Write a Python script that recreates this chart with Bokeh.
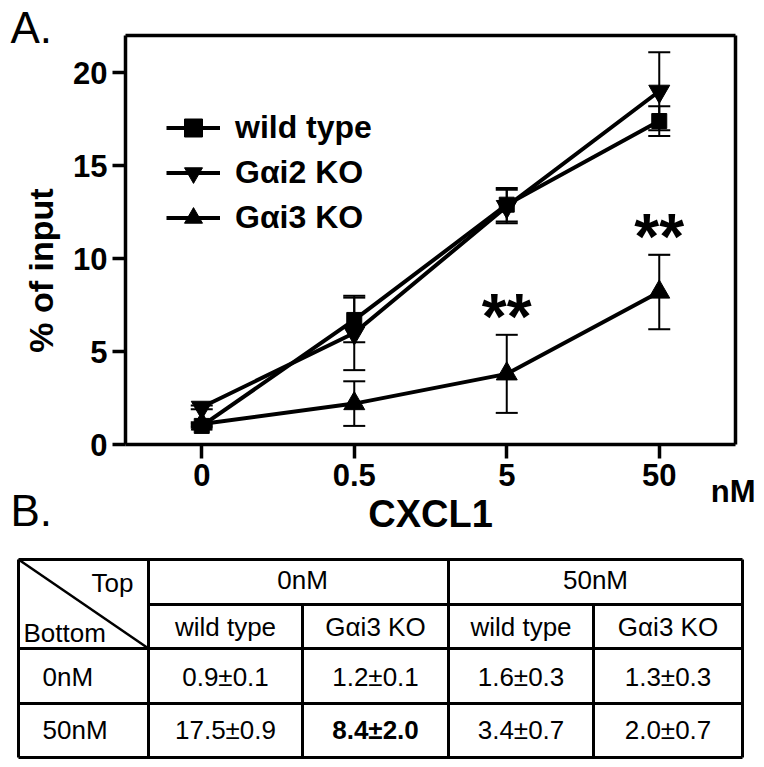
import math
from bokeh.plotting import figure
from bokeh.models import (ColumnDataSource, Range1d, Whisker, TeeHead, Legend, LegendItem,
                          LinearAxis, FixedTicker)
from bokeh.core.properties import value
from bokeh.embed import file_html
from bokeh.resources import INLINE

# ---------------- data ----------------
doses = ["0", "0.5", "5", "50"]
wt_mean = [1.0, 6.7, 12.9, 17.4]
wt_sem = [0.1, 1.2, 0.9, 0.8]
gai2_mean = [2.0, 6.0, 12.8, 19.0]
gai2_sem = [0.1, 2.0, 0.9, 2.1]
gai3_mean = [1.1, 2.2, 3.8, 8.2]
gai3_sem = [0.1, 1.2, 2.1, 2.0]
series_names = ["wild type", "G\u03b1i2 KO", "G\u03b1i3 KO"]
signif_doses = ["5", "50"]
signif_marks = ["**", "**"]
y_ticks = [0, 5, 10, 15, 20]
y_max = 22

table_top = ["0nM", "50nM"]
table_geno = ["wild type", "G\u03b1i3 KO"]
table_bottom = ["0nM", "50nM"]
tbl_mean = [[0.9, 1.2, 1.6, 1.3], [17.5, 8.4, 3.4, 2.0]]
tbl_sem = [[0.1, 0.1, 0.3, 0.3], [0.9, 2.0, 0.7, 0.7]]
tbl_bold = [[False, False, False, False], [False, True, False, False]]

# ---------------- layout (page pixels) ----------------
FONT = "Liberation Sans"
W, H = 760, 762
CH_L, CH_R, CH_T, CH_B = 125, 735, 35, 444     # chart box on the page
xpos = list(range(len(doses)))
x_lo, x_hi = -0.5, len(doses) - 0.5
xs = (CH_R - CH_L) / (x_hi - x_lo)
ys = (CH_B - CH_T) / y_max
x_start = x_lo - CH_L / xs
x_end = x_hi + (W - CH_R) / xs
y_start = -(H - CH_B) / ys
y_end = y_max + CH_T / ys

p = figure(width=W, height=H, x_range=Range1d(x_start, x_end), y_range=Range1d(y_start, y_end),
           output_backend="svg", toolbar_location=None, min_border=0,
           x_axis_location=None, y_axis_location=None)
p.extra_x_ranges = {"page": Range1d(0, W)}
p.extra_y_ranges = {"page": Range1d(H, 0)}
p.grid.visible = False
p.outline_line_color = None
p.background_fill_color = "white"
p.border_fill_color = "white"

# ---------------- axes (fixed inside the canvas) ----------------
def style_axis(ax):
    ax.axis_line_width = 3.5
    ax.axis_line_color = "black"
    ax.major_tick_line_width = 3.5
    ax.major_tick_line_color = "black"
    ax.major_tick_in = 0
    ax.minor_tick_line_color = None
    ax.major_label_text_font = FONT
    ax.major_label_text_font_style = "bold"
    ax.major_label_text_font_size = "31px"
    ax.major_label_text_color = "black"
    ax.major_label_standoff = 5

yax = LinearAxis(fixed_location=x_lo, bounds=(0, y_max), ticker=FixedTicker(ticks=y_ticks))
style_axis(yax)
yax.major_tick_out = 13
p.add_layout(yax, "left")

xax = LinearAxis(fixed_location=0, bounds=(x_lo, x_hi), ticker=FixedTicker(ticks=xpos),
                 major_label_overrides={i: d for i, d in zip(xpos, doses)})
style_axis(xax)
xax.major_tick_out = 14
p.add_layout(xax, "below")

tax = LinearAxis(fixed_location=y_max, bounds=(x_lo, x_hi), ticker=FixedTicker(ticks=[]))
style_axis(tax)
p.add_layout(tax, "above")
rax = LinearAxis(fixed_location=x_hi, bounds=(0, y_max), ticker=FixedTicker(ticks=[]))
style_axis(rax)
p.add_layout(rax, "right")

# ---------------- series ----------------
markers = ["square", "inverted_triangle", "triangle"]
msizes = [15, 21, 21]
means = [wt_mean, gai2_mean, gai3_mean]
sems = [wt_sem, gai2_sem, gai3_sem]
items = []
for name, mean, sem, mk, sz in zip(series_names, means, sems, markers, msizes):
    src = ColumnDataSource(dict(x=xpos, y=mean,
                                lo=[m - s for m, s in zip(mean, sem)],
                                hi=[m + s for m, s in zip(mean, sem)]))
    ln = p.line("x", "y", source=src, line_width=4, line_color="black")
    wh = Whisker(base="x", lower="lo", upper="hi", source=src, dimension="height",
                 line_width=2, line_color="black",
                 upper_head=TeeHead(size=22, line_width=2, line_color="black"),
                 lower_head=TeeHead(size=22, line_width=2, line_color="black"))
    p.add_layout(wh)
    sc = p.scatter("x", "y", source=src, marker=mk, size=sz,
                   fill_color="black", line_color="black")
    items.append(LegendItem(label=name, renderers=[ln, sc]))

leg = Legend(items=items, location=(166, H - 240), glyph_width=54, glyph_height=45,
             label_height=45, spacing=0, padding=0, margin=0, label_standoff=15,
             border_line_alpha=0, background_fill_alpha=0,
             label_text_font=FONT, label_text_font_style="bold",
             label_text_font_size="32px", label_text_color="black")
p.add_layout(leg)

star_x = [xpos[doses.index(d)] for d in signif_doses]
star_y = [gai3_mean[doses.index(d)] + gai3_sem[doses.index(d)] for d in signif_doses]
p.text(x=star_x, y=star_y, text=signif_marks, text_align="center",
       text_baseline="alphabetic", y_offset=-18, text_font=value(FONT),
       text_font_style="bold", text_font_size="64px", text_color="black")

# ---------------- free texts (page coordinates) ----------------
pg = dict(x_range_name="page", y_range_name="page", text_color="black",
          text_font=value(FONT), text_baseline="alphabetic")
p.text(x=[10], y=[43], text=["A."], text_font_size="44px", y_offset=-16, **pg)
p.text(x=[10], y=[525], text=["B."], text_font_size="44px", y_offset=-15, **pg)
p.text(x=[755], y=[503], text=["nM"], text_align="right", text_font_style="bold",
       text_font_size="31px", y_offset=-12, **pg)
p.text(x=[(CH_L + CH_R) / 2], y=[527], text=["CXCL1"], text_align="center",
       text_font_style="bold", text_font_size="38px", y_offset=-14, **pg)
p.text(x=[40], y=[270], text=["% of input"], angle=math.pi / 2, text_align="center",
       text_font_style="bold", text_font_size="34px", x_range_name="page",
       y_range_name="page", text_color="black", text_font=value(FONT),
       text_baseline="middle")

# ---------------- table (page coordinates) ----------------
cx = [18, 148, 302, 448, 593, 742]   # column edges
ry = [559, 604, 648, 703, 757]       # row edges
LW = 3
lk = dict(x_range_name="page", y_range_name="page", line_color="black")
hx0 = [cx[0], cx[1], cx[0], cx[0], cx[0]]
p.segment(x0=hx0, y0=ry, x1=[cx[-1]] * 5, y1=ry, line_width=LW, **lk)
vy0 = [ry[0], ry[0], ry[1], ry[0], ry[1], ry[0]]
p.segment(x0=cx, y0=vy0, x1=cx, y1=[ry[-1]] * 6, line_width=LW, **lk)
p.segment(x0=[cx[0]], y0=[ry[0]], x1=[cx[1]], y1=[ry[2]], line_width=2.5, **lk)

tk = dict(pg, text_font_size="26px", y_offset=-11)
p.text(x=[cx[1] - 15], y=[ry[0] + 34], text=["Top"], text_align="right", **tk)
p.text(x=[cx[0] + 5], y=[ry[2] - 5], text=["Bottom"], text_align="left", **tk)
top_centers = [(cx[1] + cx[3]) / 2 + 4, (cx[3] + cx[5]) / 2]
p.text(x=top_centers, y=[ry[0] + 31] * 2, text=table_top, text_align="center", **tk)
col_centers = [(cx[i] + cx[i + 1]) / 2 for i in range(1, 5)]
p.text(x=col_centers, y=[ry[1] + 33] * 4, text=table_geno * 2, text_align="center", **tk)
row_base = [ry[2] + 39, ry[3] + 37]
p.text(x=[cx[0] + 24] * 2, y=row_base, text=table_bottom, text_align="left", **tk)
for r in range(2):
    for c in range(4):
        s = "%.1f\u00b1%.1f" % (tbl_mean[r][c], tbl_sem[r][c])
        p.text(x=[col_centers[c]], y=[row_base[r]], text=[s], text_align="center",
               text_font_style="bold" if tbl_bold[r][c] else "normal", **tk)

open("out.html", "w").write(file_html(p, INLINE))
